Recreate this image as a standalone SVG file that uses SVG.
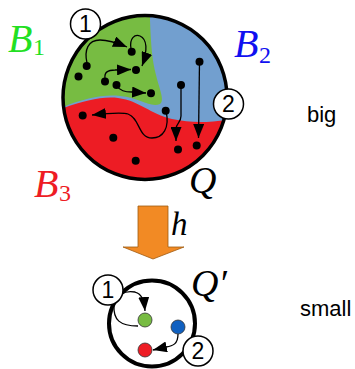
<svg xmlns="http://www.w3.org/2000/svg" width="355" height="369" viewBox="0 0 355 369">
<style>
.lbl{font-family:"Liberation Serif",serif;font-style:italic}
.sub{font-family:"Liberation Serif",serif}
.num{font-family:"Liberation Sans",Arial,sans-serif;font-size:23px;text-anchor:middle;fill:#000}
.word{font-family:"Liberation Sans",Arial,sans-serif;font-size:22px;fill:#000}
.dot{fill:#000}
.edge{fill:none;stroke:#000;stroke-width:1.3}
.badge{fill:#fff;stroke:#000;stroke-width:1.5}
</style>
<defs>
<clipPath id="bigclip"><circle cx="145" cy="97.5" r="82"/></clipPath>
<marker id="ah" markerUnits="userSpaceOnUse" markerWidth="15" markerHeight="11" refX="14" refY="5.5" orient="auto" viewBox="0 0 15 11"><path d="M0,0 L14,5.5 L0,11 Z" fill="#000"/></marker>
</defs>
<g id="Q">
<g clip-path="url(#bigclip)">
<rect x="55" y="10" width="180" height="180" fill="#729fcf"/>
<path id="regionB1" d="M40,0 L150,0 L150,20 C151,45 152,60 156,75 C159,88 165,100 160,104 C150,108 140,98 120,96 C100,94 80,100 55,110 L40,110 Z" fill="#77bc42"/>
<path id="regionB3" d="M55,111 C80,102 100,96 118,98 C140,101 150,114 172,119 C195,124 215,122 240,118 L240,190 L55,190 Z" fill="#ed1c24"/>
</g>
<circle cx="145" cy="97.5" r="82" fill="none" stroke="#000" stroke-width="3.5"/>
</g>
<g id="h">
<path d="M138,206 L168,206 L168,247 L184,247 L153,259 L123,247 L138,247 Z" fill="#f28a24" stroke="#a05a10" stroke-width="0.8"/>
<text class="lbl" x="171" y="235" font-size="33" fill="#000">h</text>
</g>
<g id="Qprime">
<circle cx="152" cy="323.5" r="43" fill="#fff" stroke="#000" stroke-width="4"/>
<text class="lbl" x="191" y="296" font-size="38" fill="#000">Q′</text>
</g>
<g id="connectors">
<path class="edge" marker-end="url(#ah)" d="M87,63 C84,50 88,40 100,40 C108,40 115,42 127,47"/>
<path class="edge" marker-end="url(#ah)" d="M131,49 C129,38 135,34 140,36 C147,39 148,50 142,66"/>
<path class="edge" marker-end="url(#ah)" d="M105,79 C104,72 108,70 115,70 L131,69.5"/>
<path class="edge" marker-end="url(#ah)" d="M116,85 C120,91 125,92 132,92 L146,93"/>
<path class="edge" marker-end="url(#ah)" d="M166,111 C170,128 163,138 152,138 C138,138 140,118 128,114 C122,112 110,113 92,115"/>
<path class="edge" marker-end="url(#ah)" d="M181,85 L181,116 C181,123 176,123 176,129 L176,141"/>
<path class="edge" marker-end="url(#ah)" d="M199.5,62 L198.5,138"/>
<path class="edge" marker-end="url(#ah)" d="M138,326 C120,326 113,320 114,305 C115,295 125,290 135,292 C142,294 144,300 145,311"/>
<path class="edge" marker-end="url(#ah)" d="M178,334 C178,344 173,346 166,347 L153,350"/>
</g>
<g id="dots">
<circle class="dot" cx="86.7" cy="66" r="4"/>
<circle class="dot" cx="78.5" cy="76.5" r="4"/>
<circle class="dot" cx="131.7" cy="51.7" r="4"/>
<circle class="dot" cx="136" cy="70" r="4"/>
<circle class="dot" cx="105" cy="81.5" r="4"/>
<circle class="dot" cx="116.5" cy="85" r="4"/>
<circle class="dot" cx="151" cy="93.3" r="4"/>
<circle class="dot" cx="199.5" cy="61.7" r="4"/>
<circle class="dot" cx="181" cy="85" r="4"/>
<circle class="dot" cx="165.7" cy="110.7" r="4"/>
<circle class="dot" cx="82.7" cy="115.5" r="4"/>
<circle class="dot" cx="113.3" cy="137.7" r="4"/>
<circle class="dot" cx="135.7" cy="160.7" r="4"/>
<circle class="dot" cx="178" cy="149.5" r="4"/>
<circle class="dot" cx="196.7" cy="145.5" r="4"/>
</g>
<g id="smalldots">
<circle cx="145" cy="320" r="7" fill="#77bc42" stroke="#333" stroke-width="0.8"/>
<circle cx="178" cy="327" r="7" fill="#1060c0" stroke="#333" stroke-width="0.8"/>
<circle cx="145" cy="350" r="7" fill="#ee1c24" stroke="#333" stroke-width="0.8"/>
</g>
<g id="badge1"><circle class="badge" cx="85.5" cy="24" r="15"/><text class="num" x="85.5" y="32">1</text></g>
<g id="badge2"><circle class="badge" cx="228.5" cy="104" r="15"/><text class="num" x="228.5" y="112">2</text></g>
<g id="badge1s"><circle class="badge" cx="108" cy="290" r="15"/><text class="num" x="108" y="298">1</text></g>
<g id="badge2s"><circle class="badge" cx="198" cy="351" r="15"/><text class="num" x="198" y="359">2</text></g>
<g id="labelB1"><text class="lbl" x="8" y="52" font-size="40" fill="#22e022">B</text><text class="sub" x="33" y="55" font-size="24" fill="#22e022">1</text></g>
<g id="labelB2"><text class="lbl" x="234" y="57" font-size="40" fill="#1010f0">B</text><text class="sub" x="259" y="63" font-size="24" fill="#1010f0">2</text></g>
<g id="labelB3"><text class="lbl" x="34" y="197" font-size="40" fill="#ee1c24">B</text><text class="sub" x="59" y="201" font-size="24" fill="#ee1c24">3</text></g>
<g id="labelQ"><text class="lbl" x="189" y="193" font-size="38" fill="#000">Q</text></g>
<g id="big"><text class="word" x="307" y="122">big</text></g>
<g id="small"><text class="word" x="300" y="316">small</text></g>
</svg>
